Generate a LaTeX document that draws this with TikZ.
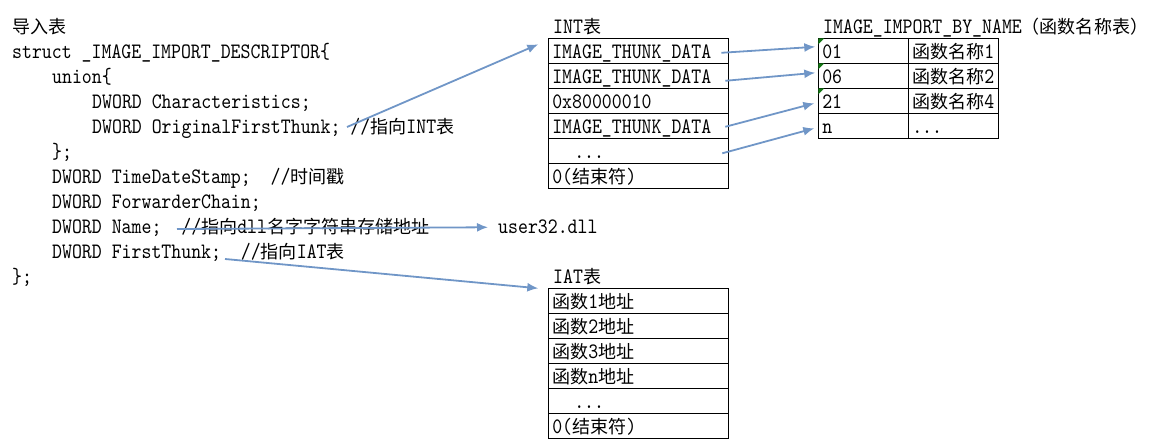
\documentclass[tikz,border=0pt]{standalone}
\usepackage{fontspec}
\newfontfamily\codefont[FakeStretch=0.86]{lmmono10-regular.otf}
\newfontfamily\cjkfont[Scale=0.82]{Noto Sans CJK SC}
\newcommand{\zh}[1]{{\cjkfont #1}}
\newcommand{\celldots}{...}
\usetikzlibrary{positioning, arrows.meta}
\definecolor{ptrblue}{RGB}{112,150,199}
\definecolor{markgreen}{RGB}{20,120,20}

\tikzset{
  code/.style={anchor=base west, inner sep=0pt},
  cell/.style={draw, outer sep=0pt, inner xsep=4pt, inner ysep=0pt,
    text height=20.5pt, text depth=4.5pt, text width=172pt, align=left,
    anchor=north west},
  half/.style={cell, text width=82pt},
  ptr/.style={draw=ptrblue, line width=1.8pt, -{Latex[length=11pt,width=9pt]}},
}

\begin{document}
\begin{tikzpicture}[x=1pt, y=-1pt, font=\codefont\fontsize{22}{25}\selectfont]
\useasboundingbox (0,0) rectangle (1149,446);

% the struct on the left
\node[code] (title) at (12,34) {\zh{导入表}};
\node[code] (st)  at (12,59)  {struct \_IMAGE\_IMPORT\_DESCRIPTOR\{};
\node[code] (un)  at (52,84)  {union\{};
\node[code] (ch)  at (92,109) {DWORD Characteristics;};
\node[code] (oft) at (92,134) {DWORD OriginalFirstThunk; //\zh{指向}INT\zh{表}};
\node[code] (ue)  at (52,159) {\};};
\node[code] (tds) at (52,184) {DWORD TimeDateStamp;~~//\zh{时间戳}};
\node[code] (fc)  at (52,209) {DWORD ForwarderChain;};
\node[code] (nm)  at (52,234) {DWORD Name;~~//\zh{指向}dll\zh{名字字符串存储地址}};
\node[code] (ft)  at (52,259) {DWORD FirstThunk;~~//\zh{指向}IAT\zh{表}};
\node[code] (se)  at (12,284) {\};};

\node[code] (dll) at (498,234) {user32.dll};

% INT table
\node[code] (inttitle) at (553,34) {INT\zh{表}};
\foreach \t [count=\i] in {IMAGE\_THUNK\_DATA, IMAGE\_THUNK\_DATA, 0x80000010,
    IMAGE\_THUNK\_DATA, \hspace*{22pt}\celldots, 0(\zh{结束符})}
  \node[cell] (int\i) at (548.3,{38.3+25*(\i-1)}) {\t};

% IMAGE_IMPORT_BY_NAME table
\node[code] (ibntitle) at (823,34) {IMAGE\_IMPORT\_BY\_NAME\zh{（函数名称表）}};
\foreach \n/\f [count=\i] in {01/\zh{函数名称}1, 06/\zh{函数名称}2, 21/\zh{函数名称}4, n/\celldots}
{
  \node[half] (ibn\i) at (818.3,{38.3+25*(\i-1)}) {\n};
  \node[half] (fn\i) at (908.3,{38.3+25*(\i-1)}) {\f};
}
\foreach \i in {1,2,3}
  \fill[markgreen] (ibn\i.north west) -- ++(6,0) -- ++(-6,6) -- cycle;

% IAT table
\node[code] (iattitle) at (553,284) {IAT\zh{表}};
\foreach \t [count=\i] in {\zh{函数}1\zh{地址}, \zh{函数}2\zh{地址}, \zh{函数}3\zh{地址},
    \zh{函数}n\zh{地址}, \hspace*{22pt}\celldots, 0(\zh{结束符})}
  \node[cell] (iat\i) at (548.3,{288.3+25*(\i-1)}) {\t};

% pointers
\coordinate (oftp) at (347,127);
\coordinate (nmp) at (177,229);
\coordinate (ftp) at (225,259);
\draw[ptr] (oftp) -- ([xshift=-10pt,yshift=-6pt]int1.north west);
\draw[ptr] (nmp) -- ([xshift=-10pt]dll.west);
\draw[ptr] (ftp) -- ([xshift=-10pt]iat1.north west);
\draw[ptr] ([xshift=-7pt,yshift=-2pt]int1.east) -- ([xshift=-3pt,yshift=4pt]ibn1.west);
\draw[ptr] ([xshift=-3pt,yshift=-5pt]int2.east) -- ([xshift=-3pt,yshift=3pt]ibn2.west);
\draw[ptr] ([xshift=-3pt,yshift=-1pt]int4.east) -- ([xshift=-4pt,yshift=-2.5pt]ibn3.west);
\draw[ptr] ([xshift=-6pt,yshift=-2.5pt]int5.east) -- ([xshift=-4pt,yshift=-2.5pt]ibn4.west);

\end{tikzpicture}
\end{document}
